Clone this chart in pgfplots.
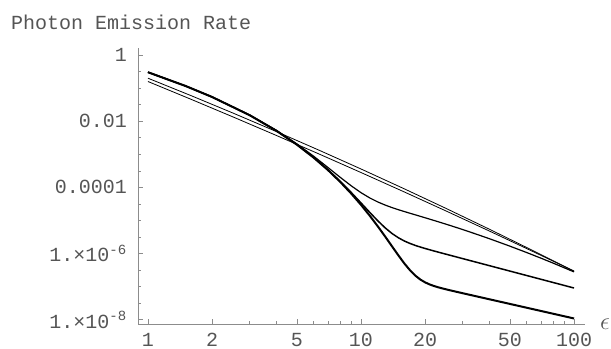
\documentclass[border=0pt]{standalone}
\usepackage{fontspec}
\setmainfont{Liberation Mono}
\usepackage{pgfplots}
\pgfplotsset{compat=1.18}
\definecolor{txt}{RGB}{85,85,85}
\definecolor{axc}{RGB}{140,140,140}
\newcommand\ff{\fontsize{20bp}{24bp}\selectfont}
\begin{document}
\begin{tikzpicture}
\useasboundingbox (0,0) rectangle (611bp,349bp);
\begin{axis}[
  at={(138bp,25bp)}, anchor=south west,
  scale only axis, width=447bp, height=276bp,
  xmode=log, ymode=log,
  xmin=0.898, xmax=112.6, ymin=7.46e-9, ymax=1.63,
  axis lines=left, axis line style={axc, line width=0.8bp, -},
  tick align=inside,
  major tick length=5bp, minor tick length=3bp,
  tick style={axc, line width=0.6bp},
  xtick={1,2,5,10,20,50,100}, xticklabels={1,2,5,10,20,50,100},
  minor xtick={3,4,6,7,8,9,30,40,60,70,80,90},
  ytick={1,0.01,0.0001,1e-6,1e-8},
  yticklabels={1,0.01,0.0001,{1.×10\textsuperscript{-6}},{1.×10\textsuperscript{-8}}},
  minor ytick={0.31623,0.1,0.031623,0.0031623,0.001,0.00031623,3.1623e-5,1e-5,3.1623e-6,3.1623e-7,1e-7,3.1623e-8},
  xticklabel style={font=\ff, text=txt, anchor=north, inner sep=0pt, yshift=-9bp},
  yticklabel style={font=\ff, text=txt, anchor=east, inner sep=0pt, xshift=-11bp},
  clip=false,
]
% thin A
\addplot[black, line width=0.8bp] coordinates {
(1,0.1995) (1.585,6.015e-2) (2.512,1.755e-2) (3.981,4.963e-3) (6.310,1.359e-3)
(10,3.606e-4) (15.85,9.265e-5) (25.12,2.306e-5) (39.81,5.561e-6) (63.10,1.299e-6) (100,2.938e-7)};
% thin B
\addplot[black, line width=0.8bp] coordinates {
(1,0.1585) (1.585,4.660e-2) (2.512,1.341e-2) (3.981,3.781e-3) (6.310,1.043e-3)
(10,2.818e-4) (15.85,7.454e-5) (25.12,1.930e-5) (39.81,4.893e-6) (63.10,1.214e-6) (100,2.951e-7)};
% kink near 10
\addplot[black, line width=1.2bp] coordinates {
(1,0.3025) (1.5,0.1165) (2,5.421e-2) (3,1.541e-2) (4,5.321e-3) (5,2.062e-3) (6,8.712e-4)
(7,3.993e-4) (8,2.004e-4) (9,1.116e-4) (10,6.934e-5) (11,4.800e-5) (12,3.624e-5)
(13,2.917e-5) (14,2.450e-5) (15,2.115e-5) (16,1.859e-5) (17,1.653e-5) (18,1.481e-5)
(20,1.210e-5) (22,1.004e-5) (24,8.451e-6) (26,7.186e-6) (28,6.163e-6) (30,5.330e-6)
(35,3.816e-6) (40,2.828e-6) (50,1.678e-6) (60,1.074e-6) (70,7.264e-7) (80,5.123e-7) (100,2.799e-7)};
% kink near 15
\addplot[black, line width=1.5bp] coordinates {
(1,0.3023) (1.5,0.1164) (2,5.405e-2) (3,1.528e-2) (4,5.213e-3) (5,1.975e-3) (6,8.004e-4)
(7,3.410e-4) (8,1.515e-4) (9,7.010e-5) (10,3.398e-5) (11,1.753e-5) (12,9.736e-6)
(13,5.958e-6) (14,4.023e-6) (15,2.995e-6) (16,2.393e-6) (17,2.021e-6) (18,1.764e-6)
(19,1.575e-6) (20,1.427e-6) (22,1.201e-6) (24,1.033e-6) (30,7.062e-7) (50,2.963e-7) (100,9.120e-8)};
% kink near 20
\addplot[black, line width=2bp] coordinates {
(1,0.3021) (1.5,0.1163) (2,5.398e-2) (3,1.524e-2) (4,5.192e-3) (5,1.960e-3) (6,7.902e-4)
(7,3.332e-4) (8,1.453e-4) (9,6.503e-5) (10,2.977e-5) (11,1.390e-5) (12,6.628e-6)
(13,3.242e-6) (14,1.641e-6) (15,8.744e-7) (16,4.981e-7) (17,3.123e-7) (18,2.157e-7)
(19,1.643e-7) (20,1.350e-7) (21,1.171e-7) (22,1.050e-7) (23,9.623e-8) (24,8.934e-8)
(26,7.868e-8) (30,6.359e-8) (50,3.017e-8) (100,1.096e-8)};
\end{axis}
\node[anchor=base west, font=\ff, text=txt, inner sep=0pt] at (11bp,319bp) {Photon Emission Rate};
\node[font=\fontsize{25bp}{28bp}\selectfont, text=txt, inner sep=0pt] at (605bp,25bp) {$\epsilon$};
\end{tikzpicture}
\end{document}
